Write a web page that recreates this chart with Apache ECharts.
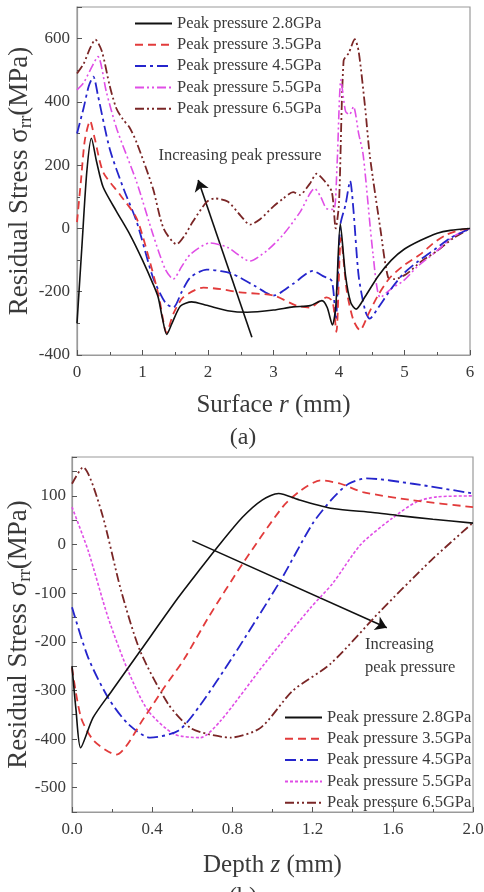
<!DOCTYPE html>
<html>
<head>
<meta charset="utf-8">
<script src="https://cdn.jsdelivr.net/npm/echarts@6/dist/echarts.min.js"></script>
<style>html,body{margin:0;padding:0;background:#fff}#c{width:484px;height:892px}</style>
</head>
<body>
<div id="c"></div>
<script>
// ---------- data (a): Surface r (mm) vs residual stress (MPa) ----------
var legendNames = ['Peak pressure 2.8GPa','Peak pressure 3.5GPa','Peak pressure 4.5GPa','Peak pressure 5.5GPa','Peak pressure 6.5GPa'];
var surf28 = [[0,-300],[0.08,-40],[0.15,180],[0.22,285],[0.3,210],[0.4,130],[0.6,55],[0.81,-20],[1.0,-100],[1.16,-175],[1.24,-218],[1.3,-280],[1.37,-335],[1.45,-300],[1.58,-245],[1.75,-232],[1.98,-243],[2.3,-260],[2.6,-265],[3.0,-258],[3.3,-248],[3.56,-244],[3.74,-228],[3.82,-250],[3.9,-305],[3.95,-250],[4.02,15],[4.1,-150],[4.18,-235],[4.26,-255],[4.4,-215],[4.6,-150],[4.8,-100],[5.0,-65],[5.24,-38],[5.5,-15],[5.7,-6],[6.0,0]];
var surf35 = [[0,20],[0.06,150],[0.12,280],[0.2,340],[0.27,285],[0.4,178],[0.66,106],[0.91,32],[1.11,-103],[1.25,-215],[1.37,-330],[1.47,-270],[1.62,-218],[1.93,-187],[2.2,-192],[2.49,-202],[3.0,-212],[3.35,-244],[3.56,-250],[3.7,-230],[3.81,-218],[3.9,-230],[3.96,-327],[4.03,-30],[4.12,-200],[4.22,-290],[4.32,-322],[4.45,-270],[4.6,-210],[4.78,-155],[5.0,-115],[5.24,-82],[5.45,-45],[5.64,-20],[5.85,-5],[6,0]];
var surf45 = [[0,300],[0.1,380],[0.18,450],[0.25,480],[0.32,420],[0.5,251],[0.71,126],[0.91,22],[1.16,-155],[1.35,-235],[1.47,-250],[1.6,-200],[1.73,-155],[1.98,-130],[2.2,-135],[2.38,-144],[2.7,-180],[3.0,-212],[3.3,-175],[3.6,-134],[3.75,-150],[3.89,-166],[3.95,-290],[4.02,10],[4.1,75],[4.17,150],[4.22,60],[4.3,-150],[4.4,-260],[4.47,-285],[4.6,-250],[4.8,-190],[4.98,-144],[5.2,-105],[5.49,-62],[5.7,-30],[5.85,-15],[6,0]];
var surf55 = [[0,438],[0.1,460],[0.2,500],[0.32,543],[0.45,430],[0.61,313],[0.91,147],[1.16,-19],[1.35,-130],[1.47,-160],[1.6,-120],[1.73,-82],[2.03,-46],[2.3,-60],[2.64,-103],[2.9,-70],[3.15,-19],[3.4,50],[3.63,126],[3.72,100],[3.81,63],[3.92,60],[3.97,200],[4.03,470],[4.1,370],[4.16,360],[4.22,385],[4.3,300],[4.37,231],[4.52,-82],[4.63,-218],[4.8,-190],[4.98,-166],[5.2,-120],[5.49,-72],[5.75,-25],[6,0]];
var surf65 = [[0,490],[0.1,520],[0.2,570],[0.28,597],[0.38,560],[0.5,450],[0.6,380],[0.7,345],[0.8,320],[0.91,272],[1.16,126],[1.32,1],[1.52,-50],[1.65,-20],[1.77,22],[1.98,84],[2.1,95],[2.3,85],[2.5,40],[2.64,12],[2.8,30],[3.0,70],[3.15,95],[3.3,115],[3.4,106],[3.55,140],[3.66,173],[3.78,150],[3.89,116],[3.95,0],[4.0,80],[4.07,530],[4.15,555],[4.24,598],[4.3,560],[4.4,380],[4.47,231],[4.63,1],[4.75,-155],[4.85,-160],[5.03,-144],[5.25,-105],[5.49,-72],[5.75,-30],[6,0]];

// ---------- data (b): Depth z (mm) vs residual stress (MPa) ----------
var depth28 = [[0,-250],[0.02,-340],[0.043,-418],[0.105,-356],[0.2,-300],[0.34,-219],[0.53,-109],[0.64,-50],[0.72,-8],[0.85,56],[0.95,92],[1.03,105],[1.14,91],[1.3,74],[1.5,66],[1.62,60],[1.8,52],[2.0,44]];
var depth35 = [[0,-253],[0.045,-356],[0.11,-404],[0.22,-432],[0.36,-356],[0.45,-300],[0.56,-235],[0.68,-150],[0.85,-40],[1.05,77],[1.14,111],[1.24,132],[1.34,125],[1.45,108],[1.7,91],[2.0,77]];
var depth45 = [[0,-129],[0.08,-232],[0.18,-315],[0.28,-369],[0.39,-397],[0.53,-383],[0.64,-330],[0.8,-232],[1.04,-74],[1.2,43],[1.3,95],[1.38,125],[1.47,136],[1.7,125],[2.0,105]];
var depth55 = [[0,77],[0.08,-12],[0.18,-150],[0.28,-260],[0.38,-342],[0.51,-390],[0.64,-397],[0.74,-363],[0.97,-240],[1.19,-130],[1.3,-80],[1.44,0],[1.6,55],[1.72,88],[1.82,98],[2.0,100]];
var depth65 = [[0,125],[0.055,159],[0.145,70],[0.245,-95],[0.34,-219],[0.48,-328],[0.59,-377],[0.68,-390],[0.79,-397],[0.94,-377],[1.1,-301],[1.29,-245],[1.54,-136],[1.79,-33],[2.0,45]];

// ---------- tick values and annotations (data units) ----------
var xTicksA = [0,1,2,3,4,5,6];
var yTicksA = [-400,-200,0,200,400,600];
var xTicksB = [0,0.4,0.8,1.2,1.6,2.0];
var yTicksB = [-500,-400,-300,-200,-100,0,100];
var arrowA = [[2.67,-344],[1.85,153]];
var arrowB = [[0.60,8],[1.57,-171]];

var F = 'Liberation Serif, Times New Roman, serif';
var TXT = '#3a3a3a';
var FRAME = '#9a9a9a';
var colors = ['#111111','#e23b3b','#2525cc','#e04ee6','#7a2626'];
var dashA = ['solid',[8,5],[11,4,3,4],[9,3,2,3,2,3],[9,3,2,3,2,3]];
var dashB = ['solid',[8,5],[11,4,3,4],[3,2],[9,3,2,3,2,3]];
var widths = [1.6,1.8,1.8,1.6,1.8];

var surfData = [surf28,surf35,surf45,surf55,surf65];
var depthData = [depth28,depth35,depth45,depth55,depth65];

var namesA = legendNames.map(function(n){return 'a:'+n;});
var namesB = legendNames.map(function(n){return 'b:'+n;});

function axisCommon(){
  return {
    axisLine:{show:true,onZero:false,lineStyle:{color:FRAME,width:1.2}},
    axisTick:{show:true,inside:true,length:5,lineStyle:{color:'#555'}},
    minorTick:{show:true,splitNumber:2,length:3,lineStyle:{color:'#555'}},
    splitLine:{show:false},
    nameMoveOverlap:false,
    axisLabel:{color:TXT,fontFamily:F,fontSize:16}
  };
}

var series = [];
surfData.forEach(function(d,i){
  series.push({name:namesA[i],type:'line',xAxisIndex:0,yAxisIndex:0,data:d,showSymbol:false,symbol:'none',smooth:0.25,
    lineStyle:{color:colors[i],width:widths[i],type:dashA[i]},itemStyle:{color:colors[i]},z:10-i});
});
depthData.forEach(function(d,i){
  series.push({name:namesB[i],type:'line',xAxisIndex:1,yAxisIndex:1,data:d,showSymbol:false,symbol:'none',smooth:0.25,
    lineStyle:{color:colors[i],width:widths[i],type:dashB[i]},itemStyle:{color:colors[i]},z:10-i});
});
function arrowML(a){
  return {silent:true,symbol:['none','arrow'],symbolSize:11,animation:false,label:{show:false},
    itemStyle:{color:'#111'},
    lineStyle:{color:'#111',width:1.6,type:'solid'},
    emphasis:{disabled:true},
    data:[[{coord:a[0]},{coord:a[1]}]]};
}
series[0].markLine = arrowML(arrowA);
series[5].markLine = arrowML(arrowB);

function legendFmt(n){return n.slice(2);}

var yName = '{a|Residual Stress σ}{s|rr}{a|(MPa)}';
var yNameStyle = {color:TXT,fontFamily:F,rich:{a:{fontSize:27,fontFamily:F,color:TXT,lineHeight:32},s:{fontSize:19,fontFamily:F,color:TXT,verticalAlign:'bottom',lineHeight:32}}};
var xNameRich = {a:{fontSize:25,fontFamily:F,color:TXT},i:{fontSize:25,fontFamily:F,fontStyle:'italic',color:TXT}};

var xa = axisCommon(), ya = axisCommon(), xb = axisCommon(), yb = axisCommon();
var legendBase = {orient:'vertical',itemWidth:37,itemHeight:14,itemGap:4.3,padding:0,formatter:legendFmt,
  itemStyle:{opacity:0,borderWidth:0},
  textStyle:{color:TXT,fontFamily:F,fontSize:16.5},selectedMode:false};

var option = {
  animation:false,
  backgroundColor:'#fff',
  grid:[
    {left:77,right:14,top:7,height:348,show:true,borderColor:FRAME,borderWidth:1.2,containLabel:false,outerBoundsMode:'none'},
    {left:72,right:11,top:457,height:355,show:true,borderColor:FRAME,borderWidth:1.2,containLabel:false,outerBoundsMode:'none'}
  ],
  legend:[
    Object.assign({data:namesA,left:134,top:15},legendBase),
    Object.assign({data:namesB,left:284,top:709},legendBase)
  ],
  xAxis:[
    Object.assign(xa,{type:'value',gridIndex:0,min:0,max:6,interval:1,
      name:'{a|Surface }{i|r}{a| (mm)}',nameLocation:'middle',nameGap:38,
      nameTextStyle:{rich:xNameRich},
      axisLabel:{color:TXT,fontFamily:F,fontSize:17,margin:9,formatter:function(v){return xTicksA.indexOf(v)>=0?String(v):'';}}}),
    Object.assign(xb,{type:'value',gridIndex:1,min:0,max:2,interval:0.4,
      name:'{a|Depth }{i|z}{a| (mm)}',nameLocation:'middle',nameGap:41,
      nameTextStyle:{rich:xNameRich},
      axisLabel:{color:TXT,fontFamily:F,fontSize:17,margin:9,formatter:function(v){
        for(var k=0;k<xTicksB.length;k++){if(Math.abs(xTicksB[k]-v)<1e-6)return xTicksB[k].toFixed(1);}return '';}}})
  ],
  yAxis:[
    Object.assign(ya,{type:'value',gridIndex:0,min:-400,max:700,interval:200,
      name:yName,nameLocation:'middle',nameGap:41,nameTextStyle:yNameStyle,
      axisLabel:{color:TXT,fontFamily:F,fontSize:17,margin:7,formatter:function(v){return yTicksA.indexOf(v)>=0?String(v):'';}}}),
    Object.assign(yb,{type:'value',gridIndex:1,min:-550,max:180,interval:50,
      minorTick:{show:false},
      name:yName,nameLocation:'middle',nameGap:37,nameTextStyle:yNameStyle,
      axisLabel:{color:TXT,fontFamily:F,fontSize:17,margin:6,formatter:function(v){return yTicksB.indexOf(v)>=0?String(v):'';}}})
  ],
  graphic:[
    {type:'text',style:{text:'Increasing peak pressure',x:240,y:156,align:'center',verticalAlign:'middle',fontFamily:F,fontSize:16.5,fill:TXT}},
    {type:'text',style:{text:'Increasing',x:365,y:645,align:'left',verticalAlign:'middle',fontFamily:F,fontSize:16.5,fill:TXT}},
    {type:'text',style:{text:'peak pressure',x:365,y:668,align:'left',verticalAlign:'middle',fontFamily:F,fontSize:16.5,fill:TXT}},
    {type:'text',style:{text:'(a)',x:243,y:438,align:'center',verticalAlign:'middle',fontFamily:F,fontSize:24,fill:TXT}},
    {type:'text',style:{text:'(b)',x:243,y:897,align:'center',verticalAlign:'middle',fontFamily:F,fontSize:24,fill:TXT}}
  ],
  series:series
};
var chart = echarts.init(document.getElementById('c'),null,{renderer:'canvas'});
chart.setOption(option);
</script>
</body>
</html>
